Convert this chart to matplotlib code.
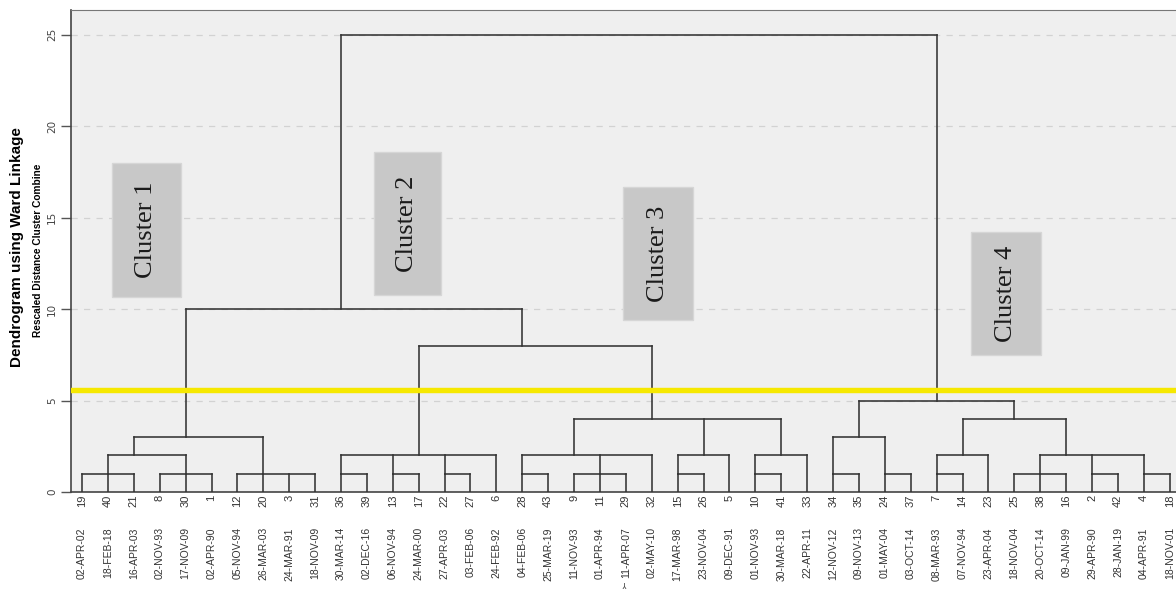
import matplotlib
matplotlib.use("Agg")
import matplotlib.pyplot as plt
from matplotlib.patches import Rectangle

# leaf order along the x axis (case numbers) and the matching dates
case_ids = [19, 40, 21, 8, 30, 1, 12, 20, 3, 31, 36, 39, 13, 17, 22, 27, 6,
            28, 43, 9, 11, 29, 32, 15, 26, 5, 10, 41, 33, 34, 35, 24, 37, 7,
            14, 23, 25, 38, 16, 2, 42, 4, 18]
dates = ["02-APR-02", "18-FEB-18", "16-APR-03", "02-NOV-93", "17-NOV-09",
         "02-APR-90", "05-NOV-94", "26-MAR-03", "24-MAR-91", "18-NOV-09",
         "30-MAR-14", "02-DEC-16", "06-NOV-94", "24-MAR-00", "27-APR-03",
         "03-FEB-06", "24-FEB-92", "04-FEB-06", "25-MAR-19", "11-NOV-93",
         "01-APR-94", "11-APR-07", "02-MAY-10", "17-MAR-98", "23-NOV-04",
         "09-DEC-91", "01-NOV-93", "30-MAR-18", "22-APR-11", "12-NOV-12",
         "09-NOV-13", "01-MAY-04", "03-OCT-14", "08-MAR-93", "07-NOV-94",
         "23-APR-04", "18-NOV-04", "20-OCT-14", "09-JAN-99", "29-APR-90",
         "28-JAN-19", "04-APR-91", "18-NOV-01"]

# merges: name, rescaled distance, members (case ids or earlier merges),
# case id of the leaf column where the joined branch rises
merge_names = ["A", "B", "C", "D", "E", "F", "G", "H", "I", "J", "K", "L",
               "N1", "N2", "O1", "O2", "P", "Q", "R", "S1", "S2", "S3",
               "T1", "T2", "U1", "V1", "W1", "U2", "X", "Y", "Z"]
merge_heights = [1, 1, 2, 1, 3, 1, 1, 1, 2, 1, 1, 2,
                 1, 2, 1, 2, 4, 8, 10, 1, 1, 3,
                 1, 2, 1, 1, 1, 2, 4, 5, 25]
merge_members = [[19, 40, 21], [8, 30, 1], ["A", "B"], [12, 20, 3, 31],
                 ["C", "D"], [36, 39], [13, 17], [22, 27],
                 ["F", "G", "H", 6], [28, 43], [9, 11, 29], ["J", "K", 32],
                 [15, 26], ["N1", 5], [10, 41], ["O1", 33],
                 ["L", "N2", "O2"], ["I", "P"], ["E", "Q"],
                 [34, 35], [24, 37], ["S1", "S2"], [7, 14], ["T1", 23],
                 [25, 38, 16], [2, 42], [4, 18], ["U1", "V1", "W1"],
                 ["T2", "U2"], ["S3", "X"], ["R", "Y"]]
merge_stems = [40, 30, 21, 20, 30, 36, 13, 22, 17, 28, 11, 9,
               15, 26, 10, 41, 32, 28, 36, 34, 24, 35,
               7, 14, 38, 2, 4, 16, 25, 7, None]

cut_level = 5.6
cluster_names = ["Cluster 1", "Cluster 2", "Cluster 3", "Cluster 4"]
# label boxes: x0, x1, y0, y1 in plot units
cluster_boxes = [(1.16, 3.82, 10.66, 17.98), (11.27, 13.86, 10.77, 18.58),
                 (20.89, 23.59, 9.40, 16.67), (34.33, 37.03, 7.49, 14.21)]

fig = plt.figure(figsize=(11.76, 5.89), dpi=100)
ax = fig.add_axes([71 / 1176, 97 / 589, 1 - 71 / 1176, 482 / 589])
ax.set_facecolor("#efefef")

pos = {c: i for i, c in enumerate(case_ids)}
node_x = {}
node_h = {}
for c in case_ids:
    node_x[c] = pos[c]
    node_h[c] = 0

line_kw = dict(color="#333333", lw=1.15, solid_capstyle="projecting", zorder=3)
for name, h, members, stem in zip(merge_names, merge_heights, merge_members, merge_stems):
    xs = [node_x[m] for m in members]
    ax.plot([min(xs), max(xs)], [h, h], **line_kw)
    for m in members:
        ax.plot([node_x[m], node_x[m]], [node_h[m], h], **line_kw)
    node_x[name] = pos[stem] if stem is not None else sum(xs) / len(xs)
    node_h[name] = h

ax.axhline(cut_level, color="#f6e800", lw=3.9, zorder=4)

for (x0, x1, y0, y1), label in zip(cluster_boxes, cluster_names):
    ax.add_patch(Rectangle((x0, y0), x1 - x0, y1 - y0, facecolor="#c8c8c8",
                           edgecolor="#d6d6d6", lw=1, zorder=2))
    ax.text((x0 + x1) / 2, (y0 + y1) / 2, label, rotation=90, ha="center",
            va="center", fontsize=19, family="Liberation Serif",
            color="#1a1a1a", zorder=5)

ax.set_xlim(-0.425, 42.24)
ax.set_ylim(0, 26.34)

ax.set_yticks([0, 5, 10, 15, 20, 25])
ax.set_yticklabels(["0", "5", "10", "15", "20", "25"], rotation=90,
                   va="center", fontsize=7.5, color="#444444")
ax.tick_params(axis="y", length=7, width=1, color="#555555", pad=3)
ax.yaxis.grid(True, linestyle=(0, (5, 5)), color="#d2d2d2", lw=0.9)
ax.set_axisbelow(True)

ax.set_xticks(range(len(case_ids)))
ax.set_xticklabels([str(c) for c in case_ids], rotation=90, fontsize=8,
                   color="#333333", family=["Liberation Sans Narrow", "Liberation Sans"])
ax.tick_params(axis="x", length=0, pad=2)

for i, d in enumerate(dates):
    ax.text(i, -0.073, d, transform=ax.get_xaxis_transform(), rotation=90,
            ha="center", va="top", fontsize=7.5, color="#333333",
            family=["Liberation Sans Narrow", "Liberation Sans"])
ax.text(21, -0.19, "Y", transform=ax.get_xaxis_transform(), rotation=180,
        ha="center", va="center", fontsize=6, color="#444444")

for side in ["left", "bottom"]:
    ax.spines[side].set_color("#444444")
    ax.spines[side].set_linewidth(1.2)
ax.spines["top"].set_color("#777777")
ax.spines["right"].set_visible(False)

fig.text(17 / 1176, 1 - 247 / 589, "Dendrogram using Ward Linkage", rotation=90,
         ha="center", va="center", fontsize=11, fontweight="bold",
         family="Liberation Sans")
fig.text(38 / 1176, 1 - 250 / 589, "Rescaled Distance Cluster Combine", rotation=90,
         ha="center", va="center", fontsize=7.3, fontweight="bold",
         family=["Liberation Sans Narrow", "Liberation Sans"])

fig.savefig("out.png", dpi=100)
